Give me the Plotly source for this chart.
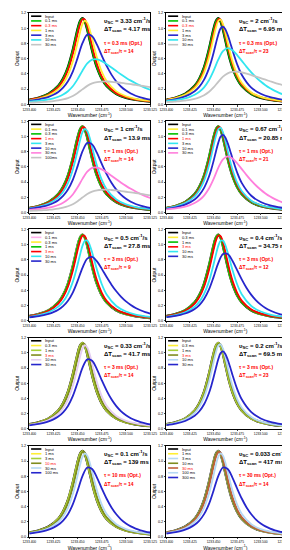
import plotly.graph_objects as go

# ---------------- data ----------------
# wavenumber grids (cm^-1)
wn_fine = [1233.400, 1233.410, 1233.420, 1233.430, 1233.435, 1233.440, 1233.445, 1233.4475,
           1233.450, 1233.4525, 1233.455, 1233.4575, 1233.460, 1233.4625, 1233.465, 1233.4675,
           1233.470, 1233.475, 1233.480, 1233.490, 1233.500, 1233.510, 1233.525]
wn_coarse = [1233.400, 1233.405, 1233.410, 1233.415, 1233.420, 1233.425, 1233.430, 1233.435,
             1233.440, 1233.445, 1233.450, 1233.455, 1233.460, 1233.465, 1233.470, 1233.475,
             1233.480, 1233.485, 1233.490, 1233.495, 1233.500, 1233.505, 1233.510, 1233.515,
             1233.520, 1233.525]

# output profiles (on wn_fine): input and small time-constant responses
out_input = [0.060, 0.087, 0.137, 0.241, 0.336, 0.485, 0.710, 0.848, 0.984, 1.090, 1.130, 1.090,
             0.984, 0.848, 0.710, 0.587, 0.485, 0.336, 0.241, 0.137, 0.087, 0.060, 0.038]
out_lag1 = [0.058, 0.083, 0.130, 0.225, 0.312, 0.447, 0.656, 0.788, 0.928, 1.049, 1.118, 1.111,
            1.030, 0.905, 0.768, 0.640, 0.530, 0.366, 0.261, 0.147, 0.093, 0.063, 0.040]
out_lag2 = [0.056, 0.080, 0.124, 0.212, 0.293, 0.418, 0.611, 0.738, 0.876, 1.005, 1.094, 1.112,
            1.055, 0.944, 0.811, 0.681, 0.566, 0.392, 0.279, 0.156, 0.098, 0.067, 0.041]
out_lag3 = [0.053, 0.076, 0.117, 0.199, 0.272, 0.386, 0.563, 0.681, 0.814, 0.948, 1.055, 1.100,
            1.070, 0.981, 0.860, 0.731, 0.613, 0.428, 0.305, 0.170, 0.106, 0.072, 0.044]
out_lag4 = [0.051, 0.073, 0.111, 0.185, 0.251, 0.353, 0.510, 0.616, 0.739, 0.868, 0.983, 1.051,
            1.052, 0.995, 0.897, 0.783, 0.670, 0.479, 0.345, 0.194, 0.121, 0.081, 0.050]
out_lag6 = [0.049, 0.069, 0.104, 0.172, 0.232, 0.324, 0.466, 0.562, 0.675, 0.799, 0.915, 0.998,
            1.019, 0.985, 0.912, 0.816, 0.713, 0.526, 0.386, 0.220, 0.138, 0.093, 0.057]
# output profiles (on wn_coarse): large time-constant responses
out_lag10 = [0.048, 0.056, 0.066, 0.080, 0.099, 0.125, 0.162, 0.218, 0.302, 0.430, 0.610, 0.803, 0.915,
             0.895, 0.783, 0.639, 0.504, 0.390, 0.300, 0.231, 0.180, 0.141, 0.112, 0.090, 0.074, 0.061]
out_lag12 = [0.046, 0.054, 0.064, 0.078, 0.095, 0.120, 0.155, 0.206, 0.285, 0.404, 0.573, 0.758, 0.876,
             0.877, 0.789, 0.665, 0.541, 0.431, 0.340, 0.268, 0.211, 0.167, 0.134, 0.108, 0.088, 0.072]
out_lag15 = [0.045, 0.052, 0.061, 0.074, 0.090, 0.113, 0.144, 0.191, 0.262, 0.370, 0.523, 0.695, 0.816,
             0.838, 0.779, 0.681, 0.574, 0.474, 0.387, 0.314, 0.254, 0.206, 0.167, 0.137, 0.112, 0.093]
out_lag20 = [0.040, 0.047, 0.055, 0.065, 0.079, 0.098, 0.125, 0.164, 0.223, 0.312, 0.439, 0.586, 0.699,
             0.738, 0.711, 0.647, 0.570, 0.492, 0.419, 0.355, 0.299, 0.251, 0.210, 0.176, 0.148, 0.125]
out_lag32 = [0.035, 0.040, 0.046, 0.054, 0.065, 0.079, 0.099, 0.129, 0.172, 0.237, 0.331, 0.442, 0.537,
             0.586, 0.591, 0.567, 0.528, 0.483, 0.437, 0.392, 0.350, 0.311, 0.276, 0.245, 0.216, 0.191]
out_lag60 = [0.028, 0.031, 0.036, 0.041, 0.049, 0.058, 0.072, 0.091, 0.119, 0.161, 0.222, 0.295, 0.363,
             0.407, 0.426, 0.428, 0.418, 0.403, 0.384, 0.364, 0.343, 0.323, 0.303, 0.283, 0.265, 0.247]
out_lag100 = [0.022, 0.024, 0.027, 0.031, 0.036, 0.042, 0.051, 0.064, 0.082, 0.109, 0.148, 0.196, 0.242,
              0.274, 0.292, 0.299, 0.300, 0.296, 0.290, 0.282, 0.273, 0.264, 0.255, 0.245, 0.236, 0.226]

profiles = {
    "in": (wn_fine, out_input), "l1": (wn_fine, out_lag1), "l2": (wn_fine, out_lag2),
    "l3": (wn_fine, out_lag3), "l4": (wn_fine, out_lag4), "l6": (wn_fine, out_lag6),
    "l10": (wn_coarse, out_lag10), "l12": (wn_coarse, out_lag12), "l15": (wn_coarse, out_lag15),
    "l20": (wn_coarse, out_lag20), "l32": (wn_coarse, out_lag32), "l60": (wn_coarse, out_lag60),
    "l100": (wn_coarse, out_lag100),
}

x_ticks = [1233.400, 1233.425, 1233.450, 1233.475, 1233.500, 1233.525]
y_ticks = [0.0, 0.2, 0.4, 0.6, 0.8, 1.0, 1.2]

# panel texts
scan_speed = ["3.33", "2", "1", "0.67", "0.5", "0.4", "0.33", "0.2", "0.1", "0.033"]
scan_time = ["4.17", "6.95", "13.9", "20.85", "27.8", "34.75", "41.7", "69.5", "139", "417"]
tau_opt = ["0.3", "0.3", "1", "1", "3", "3", "3", "3", "10", "30"]
ratio = ["14", "23", "14", "21", "9", "12", "14", "23", "14", "14"]

# colours
BLK, GRN, RED, YEL = "#000000", "#00C000", "#FF0000", "#FFEE33"
BLU, CYA, GRY, PNK = "#2626CC", "#33E6F0", "#C4C4C4", "#FF7FDC"
LPK, YGR, OLV, LAV = "#FFB0EC", "#A6D03A", "#7F8C1E", "#E4CCF2"
LBL, BRN = "#B5D8F4", "#C0603C"

# (label, profile, colour)
panel_curves = [
    [("Input", "in", BLK), ("0.1 ms", "in", GRN), ("0.3 ms", "l1", RED), ("1 ms", "l3", YEL),
     ("3 ms", "l10", BLU), ("10 ms", "l32", CYA), ("30 ms", "l100", GRY)],
    [("Input", "in", BLK), ("0.1 ms", "in", GRN), ("0.3 ms", "l1", RED), ("1 ms", "l2", YEL),
     ("3 ms", "l6", BLU), ("10 ms", "l20", CYA), ("30 ms", "l60", GRY)],
    [("Input", "in", BLK), ("0.1 ms", "in", YEL), ("0.3 ms", "in", GRN), ("1 ms", "l1", RED),
     ("3 ms", "l3", CYA), ("10 ms", "l10", BLU), ("30 ms", "l32", PNK), ("100ms", "l100", GRY)],
    [("Input", "in", BLK), ("0.1 ms", "in", YEL), ("0.3 ms", "in", GRN), ("1 ms", "l1", RED),
     ("3 ms", "l2", CYA), ("10 ms", "l6", BLU), ("30 ms", "l20", PNK)],
    [("Input", "in", BLK), ("0.1 ms", "in", LPK), ("0.3 ms", "in", YEL), ("1 ms", "in", GRN),
     ("3 ms", "l1", RED), ("10 ms", "l4", CYA), ("30 ms", "l15", BLU)],
    [("Input", "in", BLK), ("0.3 ms", "in", YEL), ("1 ms", "in", GRN), ("3 ms", "l1", RED),
     ("10 ms", "l4", CYA), ("30 ms", "l12", BLU)],
    [("Input", "in", BLK), ("0.3 ms", "in", YEL), ("1 ms", "in", YGR), ("3 ms", "l1", OLV),
     ("10 ms", "l3", LAV), ("30 ms", "l10", BLU)],
    [("Input", "in", BLK), ("0.3 ms", "in", YEL), ("1 ms", "in", YGR), ("3 ms", "l1", OLV),
     ("10 ms", "l2", LBL), ("30 ms", "l6", BLU)],
    [("Input", "in", BLK), ("1 ms", "in", YEL), ("3 ms", "in", YGR), ("10 ms", "l1", OLV),
     ("30 ms", "l3", LBL), ("100 ms", "l10", BLU)],
    [("Input", "in", BLK), ("1 ms", "in", YEL), ("3 ms", "in", LBL), ("10 ms", "in", OLV),
     ("30 ms", "l1", BRN), ("100 ms", "l3", LBL), ("300 ms", "l10", BLU)],
]

# ---------------- figure ----------------
W, H = 290, 550
FONT = "Liberation Sans, Arial, sans-serif"
fig = go.Figure()
layout = dict(width=W, height=H, margin=dict(l=0, r=0, t=0, b=0), showlegend=False,
              paper_bgcolor="white", plot_bgcolor="white", font=dict(family=FONT, color="black"))
shapes, annos = [], []

col_px = [(15, 142), (159, 283)]
for i in range(10):
    r, c = divmod(i, 2)
    n = i + 1
    xs = "" if n == 1 else str(n)
    top, bot = 109 * r + 3, 109 * r + 95
    layout["xaxis" + xs] = dict(
        domain=[col_px[c][0] / W, col_px[c][1] / W], anchor="y" + xs,
        range=[1233.400, 1233.525], tickvals=x_ticks, ticktext=[f"{v:.3f}" for v in x_ticks],
        tickfont=dict(size=3.3), ticks="outside", ticklen=1.5, tickwidth=0.6,
        showline=True, linecolor="black", linewidth=0.7, mirror=True, showgrid=False, zeroline=False,
        title=dict(text="Wavenumber (cm<sup>-1</sup>)", font=dict(size=5), standoff=1))
    layout["yaxis" + xs] = dict(
        domain=[1 - bot / H, 1 - top / H], anchor="x" + xs,
        range=[0, 1.2], tickvals=y_ticks, ticktext=[f"{v:.1f}" for v in y_ticks],
        tickfont=dict(size=3.8), ticks="outside", ticklen=1.5, tickwidth=0.6,
        showline=True, linecolor="black", linewidth=0.7, mirror=True, showgrid=False, zeroline=False,
        title=dict(text="Output", font=dict(size=5), standoff=1))

    curves = panel_curves[i]
    for k, (lab, key, colr) in enumerate(curves):
        xv, yv = profiles[key]
        fig.add_trace(go.Scatter(x=xv, y=yv, mode="lines", xaxis="x" + xs, yaxis="y" + xs,
                                 line=dict(color=colr, width=2.6 if k == 0 else 1.8,
                                           shape="spline", smoothing=0.9),
                                 name=lab, hoverinfo="skip"))
        # legend drawn inside the plot (top-left)
        yy = 0.965 - k * 0.052
        shapes.append(dict(type="line", xref=f"x{xs} domain", yref=f"y{xs} domain",
                           x0=0.015, x1=0.10, y0=yy, y1=yy,
                           line=dict(color=colr, width=1.6)))
        is_opt = lab.replace("ms", "").strip() == tau_opt[i]
        annos.append(dict(xref=f"x{xs} domain", yref=f"y{xs} domain", x=0.115, y=yy,
                          text=lab, showarrow=False, xanchor="left", yanchor="middle",
                          font=dict(size=4, color=RED if is_opt else "black")))

    tx = 0.6
    annos.append(dict(xref=f"x{xs} domain", yref=f"y{xs} domain", x=tx, y=0.915,
                      text=f"<b>υ<sub>SC</sub> = {scan_speed[i]} cm<sup>-1</sup>/s</b>",
                      showarrow=False, xanchor="left", yanchor="middle", font=dict(size=6)))
    annos.append(dict(xref=f"x{xs} domain", yref=f"y{xs} domain", x=tx, y=0.815,
                      text=f"<b>ΔT<sub>scan</sub> = {scan_time[i]} ms</b>",
                      showarrow=False, xanchor="left", yanchor="middle", font=dict(size=6)))
    annos.append(dict(xref=f"x{xs} domain", yref=f"y{xs} domain", x=tx, y=0.675,
                      text=f"<b>τ = {tau_opt[i]} ms (Opt.)</b>",
                      showarrow=False, xanchor="left", yanchor="middle", font=dict(size=5, color=RED)))
    annos.append(dict(xref=f"x{xs} domain", yref=f"y{xs} domain", x=tx, y=0.58,
                      text=f"<b>ΔT<sub>scan</sub>/τ = {ratio[i]}</b>",
                      showarrow=False, xanchor="left", yanchor="middle", font=dict(size=5, color=RED)))

layout["shapes"] = shapes
layout["annotations"] = annos
fig.update_layout(**layout)
fig.write_html("out.html")
